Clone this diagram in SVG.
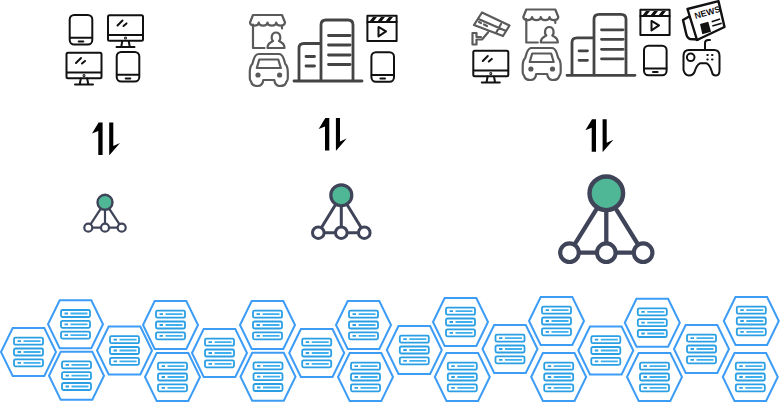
<svg xmlns="http://www.w3.org/2000/svg" width="780" height="402" viewBox="0 0 780 402">
<style>
.k{fill:none;stroke:#111;stroke-width:2;stroke-linecap:round;stroke-linejoin:round}
.g{fill:none;stroke:#5a5a5a;stroke-width:2.200;stroke-linecap:round;stroke-linejoin:round}
.b{fill:none;stroke:#444;stroke-width:2.800;stroke-linecap:round;stroke-linejoin:round}
.hx{fill:#fff;stroke:#3c9cf6;stroke-width:2;stroke-linejoin:miter}
.sv{fill:#fff;stroke:#2a9fe4;stroke-width:1.800}
.d{stroke:#2a9fe4;stroke-width:1.800;fill:none}
.t{stroke:#3fb0ee;stroke-width:1.800;fill:none}
.ln{stroke:#3f4459;fill:none}
.nw{fill:#fff;stroke:#111;stroke-width:2.400;stroke-linejoin:round}
</style>
<defs>
<g id="tablet"><rect x="-11.300" y="-14.800" width="22.600" height="29.600" rx="4.500" class="k"/><path d="M-11 8h22M-2.300 11.600h4.600" class="k"/></g>
<g id="monitor"><rect x="-17.500" y="-15.300" width="35" height="25.600" rx="1.500" class="k"/><path d="M-17 4.400h34M-8 -5l5-5M-2 -4.500l3-2.600M-3.200 10.500l-1 5.500M3.200 10.500l1 5.500M-9 16.600h18" class="k"/><circle cx="0" cy="7.400" r=".5" class="k"/></g>
<g id="store"><path class="g" d="M-14.500 -16.500H14.500L17.500 -9a4.400 3.500 0 0 1 -8.750 0a4.400 3.500 0 0 1 -8.750 0a4.400 3.500 0 0 1 -8.750 0a4.400 3.500 0 0 1 -8.750 0zM-14.500 -7V16.500H-3M14.500 -6V-3M0 16.500H17C17 11 13 11 11.500 9.500C13.500 8 13.500 1 8.500 1C3.500 1 3.500 8 5.500 9.500C4 11 0 11 0 16.500z"/></g>
<g id="car"><path class="g" d="M-10 -16H10C13 -16 14 -14 15 -11L16.500 -6C18.500 -4 19 -1 19 2V8C19 11 18 11 17.500 12C17 15.500 14 16 11 16C8 16 6 14 5.500 10H-5.500C-6 14 -8 16 -11 16C-14 16 -17 15.500 -17.500 12C-18 11 -19 11 -19 8V2C-19 -1 -18.500 -4 -16.500 -6L-15 -11C-14 -14 -13 -16 -10 -16ZM-12 -2L-9.500 -10.500H9.500L12 -2Z"/><circle cx="-10.800" cy="5" r="2.600" fill="#5a5a5a"/><circle cx="10.800" cy="5" r="2.600" fill="#5a5a5a"/></g>
<g id="bld"><path d="M0 0H68M27 -1V-56q0-5 5-5h22q5 0 5 5V-1M27 -37.500H10q-5 0-5 5V-1M34.500 -45.500H56M34.500 -36H56M34.500 -26H56M34.500 -16.500H56M12 -24.500H20.500M12 -15H20.500" class="b"/></g>
<g id="clap"><rect x="-14.600" y="-12.700" width="29.200" height="25.400" class="k"/><path d="M-14.600 -6.500H14.600" class="k"/><path d="M-13 -6.500l4-5h4l-4 5zM-5 -6.500l4-5h4l-4 5zM3 -6.500l4-5h4l-4 5z" fill="#111"/><path d="M-3.500 -1.500L4 3L-3.500 8z" class="k"/></g>
<g id="hex"><path class="hx" d="M-27.500 0L-15.800 -24H15.800L27.500 0L15.800 24H-15.800z"/>
<rect class="sv" x="-14.500" y="-14.300" width="29" height="7" rx="1.500"/><rect class="sv" x="-14.500" y="-3.500" width="29" height="7" rx="1.500"/><rect class="sv" x="-14.500" y="7.300" width="29" height="7" rx="1.500"/><path class="d" d="M-11 -10.800h3.500M-11 0h3.500M-11 10.800h3.500"/><path class="t" d="M-5 -10.800h17M-5 0h17M-5 10.800h17"/></g>
<path id="arr" fill="#000" d="M102.600 122.500H98.600L92 133.500L98.300 131V155H102.600zM109.200 122.500H113.300V146L120 143L109.600 155H109.200z"/>
<g id="net"><path class="ln" stroke-width="4.300" d="M0 0L-36.800 59.400H36.800L0 0V59.400"/><circle r="16.800" fill="#4fb795" stroke="#3f4459" stroke-width="4.400"/><circle cx="-36.800" cy="59.400" r="9.300" fill="#fff" stroke="#3f4459" stroke-width="4.200"/><circle cx="0" cy="59.400" r="9.300" fill="#fff" stroke="#3f4459" stroke-width="4.200"/><circle cx="36.800" cy="59.400" r="9.300" fill="#fff" stroke="#3f4459" stroke-width="4.200"/></g>
</defs>
<g id="group-small">
<use id="i1" href="#tablet" x="81" y="29.800"/><use id="i2" href="#monitor" x="125.500" y="30.500"/><use id="i3" href="#monitor" x="84" y="68"/><use id="i4" href="#tablet" x="128" y="66.800"/>
</g>
<g id="group-medium">
<use id="i5" href="#store" x="267.500" y="31.500"/><use id="i6" href="#car" x="268.800" y="70"/><use id="i7" href="#bld" x="294" y="81"/><use id="i8" href="#clap" x="382" y="28.400"/><use id="i9" href="#tablet" x="382.700" y="67"/>
</g>
<g id="group-large">
<g id="camera" class="g"><path d="M474 25L482 12.500L509.500 25.500L503 36ZM478.500 19L506 31M479 22l2 1M484 24.500l3 1.500M501 24L496 33M472.500 33V44.500H476.500V39.500H482L488 32.500M472.500 33H476.500V37H481"/></g>
<use id="i10" href="#store" x="540.800" y="26"/><use id="i11" href="#monitor" x="490.800" y="66"/><use id="i12" href="#car" x="541.700" y="64"/><use id="i13" href="#bld" x="567" y="75.300"/><use id="i14" href="#clap" x="655" y="22.400"/><use id="i15" href="#tablet" x="655.300" y="60.500"/>
<g id="news"><path class="nw" d="M683 20L690 16L698 39.500L690 39Q687 38 686 33z"/><path class="nw" d="M687.500 9L718.500 1.200L724.500 27L697 40z"/><text x="695.500" y="19" font-family="'Liberation Sans',sans-serif" font-size="8.800" font-weight="700" fill="#111" transform="rotate(-16 695.500 19)">NEWS</text><path d="M700 24L708.300 21.700L711 31.700L702.300 34.300z" fill="#111"/><path d="M711.700 21.700L720 19M712.300 26L721.700 23.300" stroke="#111" stroke-width="1.700"/></g>
<g id="gamepad" class="k"><path d="M689 50H714Q719.500 50 719.500 56V70Q719.500 75.500 716 75.500T712 72Q710 65 706.700 63.300H700Q696.500 65 694.500 72Q693 75.500 689 75.500T683.500 70V56Q683.500 50 689 50zM705 50V43Q705 40 708.500 40H710"/><circle cx="690.700" cy="57.300" r="3.800"/><path d="M707.300 55h.5M712 55h.5M707.300 59.500h.5M712 59.500h.5"/></g>
</g>
<g id="connectors">
<use href="#arr"/><use href="#arr" x="226.700" y="-4.400"/><use href="#arr" x="493.400" y="-3.300"/>
</g>
<g id="net-small"><path class="ln" stroke-width="2.200" d="M105 202.300L88.300 227.700H121.700L105 202.300V227.700"/><circle cx="105" cy="202.300" r="7.500" fill="#4fb795" stroke="#3f4459" stroke-width="2.400"/><circle cx="88.300" cy="227.700" r="4" fill="#fff" stroke="#3f4459" stroke-width="2.200"/><circle cx="105" cy="227.700" r="4" fill="#fff" stroke="#3f4459" stroke-width="2.200"/><circle cx="121.700" cy="227.700" r="4" fill="#fff" stroke="#3f4459" stroke-width="2.200"/></g>
<g id="net-medium"><path class="ln" stroke-width="3" d="M341.300 195.300L318.300 232.700H364.300L341.300 195.300V232.700"/><circle cx="341.300" cy="195.300" r="10.500" fill="#4fb795" stroke="#3f4459" stroke-width="3.200"/><circle cx="318.300" cy="232.700" r="5.800" fill="#fff" stroke="#3f4459" stroke-width="3"/><circle cx="341.300" cy="232.700" r="5.800" fill="#fff" stroke="#3f4459" stroke-width="3"/><circle cx="364.300" cy="232.700" r="5.800" fill="#fff" stroke="#3f4459" stroke-width="3"/></g>
<g id="net-large"><use href="#net" transform="translate(606.300 193.300)"/></g>
<g id="cluster">
<use id="h1" href="#hex" x="28.500" y="352"/><use id="h2" href="#hex" x="75.500" y="324.300"/><use id="h3" href="#hex" x="76.500" y="375.700"/><use id="h4" href="#hex" x="124.500" y="350.500"/><use id="h5" href="#hex" x="170.500" y="325"/><use id="h6" href="#hex" x="172.500" y="377"/><use id="h7" href="#hex" x="219.500" y="353"/><use id="h8" href="#hex" x="267.500" y="325"/><use id="h9" href="#hex" x="268" y="376.700"/><use id="h10" href="#hex" x="316.700" y="353"/><use id="h11" href="#hex" x="363.500" y="325"/><use id="h12" href="#hex" x="365.500" y="377"/><use id="h13" href="#hex" x="414.300" y="350"/><use id="h14" href="#hex" x="460.500" y="322"/><use id="h15" href="#hex" x="462.300" y="377"/><use id="h16" href="#hex" x="510" y="349"/><use id="h17" href="#hex" x="556.500" y="321"/><use id="h18" href="#hex" x="558.700" y="377"/><use id="h19" href="#hex" x="605.800" y="350.500"/><use id="h20" href="#hex" x="652.300" y="322.700"/><use id="h21" href="#hex" x="654.500" y="377"/><use id="h22" href="#hex" x="701.500" y="349"/><use id="h23" href="#hex" x="751.300" y="321"/><use id="h24" href="#hex" x="750.300" y="377"/>
</g>
</svg>
